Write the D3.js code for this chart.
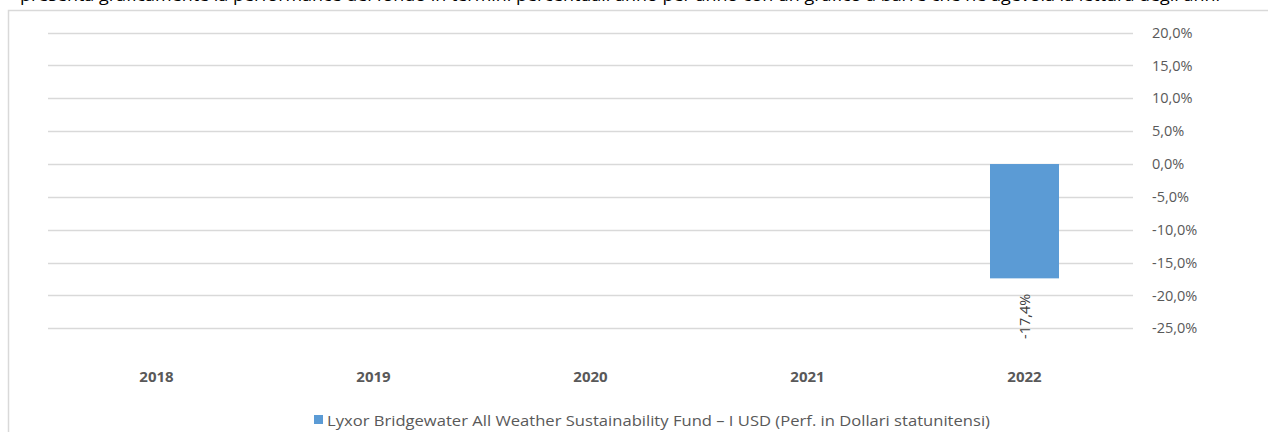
<!DOCTYPE html>
<html><head><meta charset="utf-8">
<script src="https://cdn.jsdelivr.net/npm/d3@7"></script>
<style>
html,body{margin:0;padding:0;background:#fff;overflow:hidden}
svg{display:block}
text{font-family:"Open Sans",sans-serif}
</style></head>
<body>
<svg id="chart" width="1268" height="432"></svg>
<script>
const categories = ["2018","2019","2020","2021","2022"];
const seriesName = "Lyxor Bridgewater All Weather Sustainability Fund – I USD (Perf. in Dollari statunitensi)";
const seriesValues = [null, null, null, null, -17.4];
const tickValues = [20, 15, 10, 5, 0, -5, -10, -15, -20, -25];
const introText = "presenta graficamente la performance del fondo in termini percentuali anno per anno con un grafico a barre che ne agevola la lettura degli anni";

const svg = d3.select("#chart");
const fmt = v => d3.format(".1f")(v).replace("\u2212", "-").replace(".", ",") + "%";

// clipped intro line at the very top (cut off in the reference as well)
svg.append("text").attr("x", 20).attr("y", 0.5)
  .attr("font-size", 15).attr("fill", "#000")
  .attr("textLength", 1200).attr("lengthAdjust", "spacingAndGlyphs")
  .text(introText);

// frame
svg.append("rect").attr("x", 8.5).attr("y", 10.5).attr("width", 1300).attr("height", 440)
  .attr("fill", "#fff").attr("stroke", "#d9d9d9").attr("stroke-width", 1.5);

const x = d3.scaleBand().domain(categories).range([48, 1133]).paddingInner(0.682).paddingOuter(0.341);
const y = d3.scaleLinear().domain([-25, 20]).range([328.3, 32.6]);

// gridlines
svg.append("g").selectAll("line").data(tickValues).join("line")
  .attr("x1", 48).attr("x2", 1133)
  .attr("y1", d => Math.round(y(d)) + 0.5).attr("y2", d => Math.round(y(d)) + 0.5)
  .attr("stroke", "#d9d9d9").attr("stroke-width", 1.3);

// right axis
const yAxis = d3.axisRight(y).tickValues(tickValues).tickFormat(fmt).tickSize(0).tickPadding(0);
const gy = svg.append("g").attr("transform", "translate(1152,0)").call(yAxis);
gy.select(".domain").remove();
gy.selectAll("text").attr("font-size", 14.5).attr("fill", "#595959")
  .attr("font-family", "Open Sans, sans-serif");

// bars
const data = categories.map((c, i) => ({c, v: seriesValues[i]})).filter(d => d.v != null);
svg.append("g").selectAll("rect").data(data).join("rect")
  .attr("x", d => x(d.c)).attr("width", x.bandwidth())
  .attr("y", d => Math.min(y(0), y(d.v))).attr("height", d => Math.abs(y(d.v) - y(0)))
  .attr("fill", "#5b9bd5");

// data labels
svg.append("g").selectAll("text").data(data).join("text")
  .attr("transform", d => `translate(${x(d.c) + x.bandwidth()/2 + 5},${y(d.v) + 38}) rotate(-90)`)
  .attr("text-anchor", "middle").attr("font-size", 14.5).attr("fill", "#404040")
  .text(d => fmt(d.v));

// category labels
const xAxis = d3.axisBottom(x).tickSize(0).tickPadding(0);
const gx = svg.append("g").attr("transform", "translate(0,371)").call(xAxis);
gx.select(".domain").remove();
gx.selectAll("text").attr("font-size", 15).attr("font-weight", "bold").attr("fill", "#595959")
  .attr("font-family", "Open Sans, sans-serif");

// legend
const lg = svg.append("g");
lg.append("rect").attr("x", 314).attr("y", 415).attr("width", 9).attr("height", 9).attr("fill", "#5b9bd5");
lg.append("text").attr("x", 327).attr("y", 425.5).attr("font-size", 14.5).attr("fill", "#595959")
  .attr("textLength", 663).attr("lengthAdjust", "spacingAndGlyphs")
  .text(seriesName);
</script>
</body></html>
